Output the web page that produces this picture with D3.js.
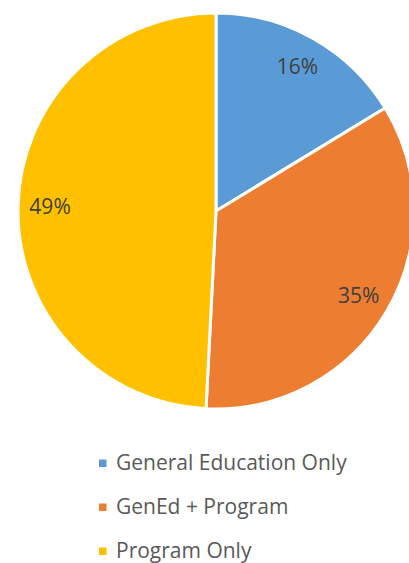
<!DOCTYPE html>
<html>
<head>
<meta charset="utf-8">
<script src="https://cdn.jsdelivr.net/npm/d3@7"></script>
<style>
  html, body { margin: 0; padding: 0; background: #fff; overflow: hidden; }
  svg { display: block; }
</style>
</head>
<body>
<svg id="chart" width="409" height="563"></svg>
<script>
// chart data
const categories = ["General Education Only", "GenEd + Program", "Program Only"];
const values = [16.3, 34.5, 49.2];
const labels = ["16%", "35%", "49%"];
const colors = ["#5B9BD5", "#ED7D31", "#FFC000"];

const width = 409, height = 563;
const cx = 216, cy = 211, radius = 198;

const svg = d3.select("#chart");

const pie = d3.pie().sort(null).value(d => d);
const arcs = pie(values);

const arc = d3.arc().innerRadius(0).outerRadius(radius);
const labelArc = d3.arc().innerRadius(166).outerRadius(166);

const g = svg.append("g").attr("transform", `translate(${cx},${cy})`);

g.selectAll("path")
  .data(arcs)
  .join("path")
  .attr("d", arc)
  .attr("fill", (d, i) => colors[i])
  .attr("stroke", "#fff")
  .attr("stroke-width", 3)
  .attr("stroke-linejoin", "round");

g.selectAll("text.lbl")
  .data(arcs)
  .join("text")
  .attr("class", "lbl")
  .attr("transform", d => `translate(${labelArc.centroid(d)})`)
  .attr("text-anchor", "middle")
  .attr("dy", "0.35em")
  .style("font-family", "'Open Sans', sans-serif")
  .style("font-size", "21px")
  .style("fill", "#404040")
  .text((d, i) => labels[i]);

// legend
const legendY = d3.scalePoint().domain(categories).range([463, 551]);

const legend = svg.append("g");
const item = legend.selectAll("g")
  .data(categories)
  .join("g")
  .attr("transform", d => `translate(99,${legendY(d)})`);

item.append("rect")
  .attr("x", 0)
  .attr("y", -3.5)
  .attr("width", 7.5)
  .attr("height", 7.5)
  .attr("fill", (d, i) => colors[i]);

item.append("text")
  .attr("x", 17)
  .attr("dy", "0.35em")
  .style("font-family", "'Open Sans', sans-serif")
  .style("font-size", "21px")
  .style("fill", "#595959")
  .text(d => d);
</script>
</body>
</html>
